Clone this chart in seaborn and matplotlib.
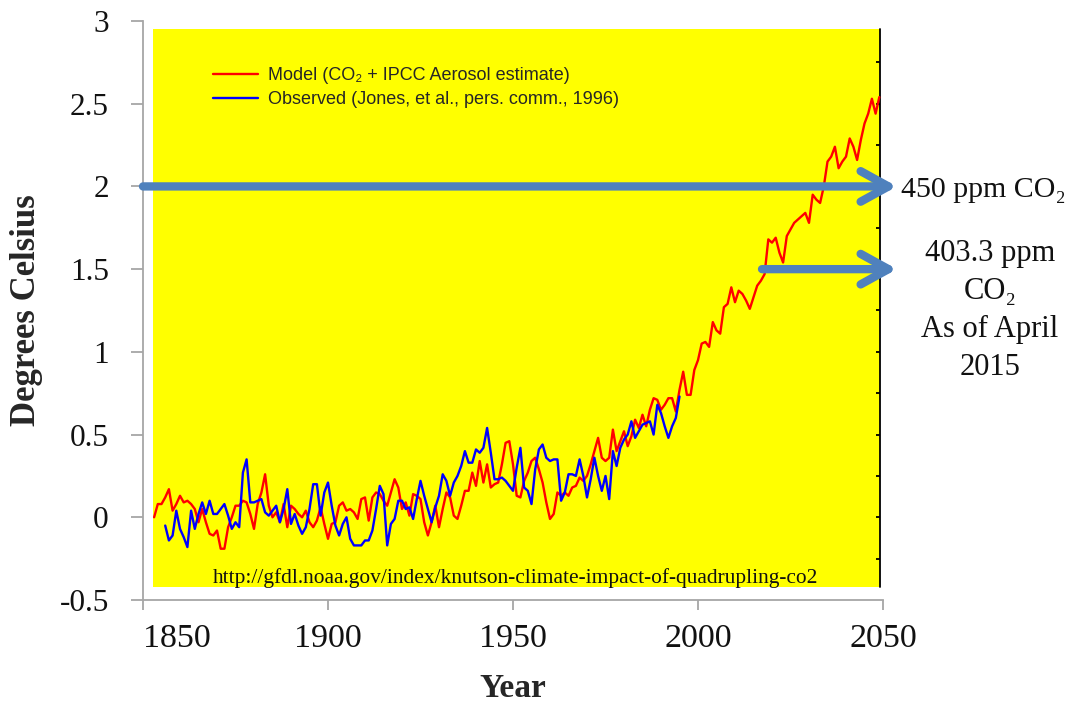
import matplotlib
matplotlib.use("Agg")
import matplotlib.pyplot as plt
import seaborn as sns
import pandas as pd
from matplotlib.patches import Rectangle

# ---- data -------------------------------------------------------------
model_years = list(range(1853, 2050))
model_temps = [
    0.00, 0.08, 0.08, 0.12, 0.17, 0.04, 0.08, 0.13, 0.09, 0.10,   # 1853-1862
    0.08, 0.05, -0.03, 0.05, -0.03, -0.10, -0.11, -0.08, -0.19, -0.19,  # 1863-1872
    -0.06, 0.00, 0.07, 0.07, 0.10, 0.09, 0.02, -0.07, 0.08, 0.15,  # 1873-1882
    0.26, 0.07, 0.00, 0.03, -0.03, 0.08, -0.06, 0.07, 0.05, 0.02,  # 1883-1892
    0.00, 0.04, -0.03, -0.06, -0.02, 0.06, -0.04, -0.13, -0.04, -0.03,  # 1893-1902
    0.07, 0.09, 0.04, 0.05, 0.03, -0.01, 0.11, 0.12, -0.02, 0.12,  # 1903-1912
    0.15, 0.14, 0.10, 0.07, 0.15, 0.23, 0.18, 0.05, 0.09, 0.01,  # 1913-1922
    0.14, 0.13, 0.11, -0.03, -0.11, -0.03, 0.07, -0.06, 0.05, 0.15,  # 1923-1932
    0.12, 0.01, -0.01, 0.07, 0.16, 0.16, 0.27, 0.19, 0.34, 0.21,  # 1933-1942
    0.32, 0.18, 0.20, 0.21, 0.32, 0.45, 0.46, 0.32, 0.13, 0.12,  # 1943-1952
    0.22, 0.27, 0.34, 0.36, 0.29, 0.21, 0.09, -0.01, 0.02, 0.15,  # 1953-1962
    0.13, 0.15, 0.13, 0.18, 0.19, 0.24, 0.22, 0.25, 0.32, 0.40,  # 1963-1972
    0.48, 0.36, 0.34, 0.36, 0.53, 0.40, 0.46, 0.52, 0.43, 0.49,  # 1973-1982
    0.59, 0.54, 0.62, 0.55, 0.65, 0.72, 0.71, 0.65, 0.68, 0.72,  # 1983-1992
    0.72, 0.64, 0.77, 0.88, 0.74, 0.74, 0.89, 0.95, 1.05, 1.06,  # 1993-2002
    1.03, 1.18, 1.13, 1.11, 1.27, 1.29, 1.39, 1.30, 1.37, 1.35,  # 2003-2012
    1.31, 1.26, 1.33, 1.40, 1.43, 1.47, 1.68, 1.66, 1.69, 1.60,  # 2013-2022
    1.54, 1.70, 1.74, 1.78, 1.80, 1.82, 1.84, 1.78, 1.95, 1.92,  # 2023-2032
    1.90, 2.00, 2.15, 2.18, 2.24, 2.11, 2.15, 2.18, 2.29, 2.24,  # 2033-2042
    2.16, 2.28, 2.38, 2.44, 2.53, 2.44, 2.54,                    # 2043-2049
]
model_years = model_years[:len(model_temps)]

obs_years = list(range(1856, 1996))
obs_temps = [
    -0.05, -0.14, -0.11, 0.04, -0.07, -0.12, -0.18, 0.04, -0.07, 0.02,  # 1856-1865
    0.09, 0.02, 0.10, 0.02, 0.02, 0.05, 0.08, 0.01, -0.07, -0.03,      # 1866-1875
    -0.06, 0.27, 0.35, 0.09, 0.09, 0.10, 0.11, 0.03, 0.01, 0.04,       # 1876-1885
    0.07, -0.03, 0.05, 0.17, -0.04, 0.02, -0.05, -0.10, -0.06, 0.05,   # 1886-1895
    0.20, 0.20, 0.01, 0.15, 0.21, 0.07, -0.05, -0.11, -0.04, 0.00,     # 1896-1905
    -0.13, -0.17, -0.17, -0.17, -0.14, -0.14, -0.08, 0.05, 0.19, 0.14, # 1906-1915
    -0.17, -0.04, -0.01, 0.10, 0.10, 0.05, 0.06, -0.01, 0.11, 0.22,    # 1916-1925
    0.13, 0.05, -0.03, 0.06, 0.13, 0.26, 0.22, 0.13, 0.21, 0.25,       # 1926-1935
    0.31, 0.40, 0.33, 0.33, 0.41, 0.39, 0.42, 0.54, 0.39, 0.23,        # 1936-1945
    0.23, 0.24, 0.22, 0.19, 0.16, 0.30, 0.42, 0.18, 0.16, 0.08,        # 1946-1955
    0.29, 0.41, 0.44, 0.36, 0.34, 0.35, 0.35, 0.10, 0.15, 0.26,        # 1956-1965
    0.26, 0.25, 0.35, 0.25, 0.12, 0.23, 0.36, 0.25, 0.16, 0.25,        # 1966-1975
    0.11, 0.40, 0.31, 0.42, 0.47, 0.50, 0.58, 0.48, 0.52, 0.56,        # 1976-1985
    0.57, 0.58, 0.50, 0.68, 0.63, 0.55, 0.48, 0.55, 0.60, 0.73,        # 1986-1995
]

series_labels = ["Model (CO\u2082 + IPCC Aerosol estimate)",
                 "Observed (Jones, et al., pers. comm., 1996)"]
x_ticks = [1850, 1900, 1950, 2000, 2050]
x_tick_labels = ["1850", "1900", "1950", "2000", "2050"]
y_ticks = [-0.5, 0, 0.5, 1, 1.5, 2, 2.5, 3]
y_tick_labels = ["-0.5", "0", "0.5", "1", "1.5", "2", "2.5", "3"]
inner_ticks = [-0.25, 0, 0.25, 0.5, 0.75, 1.0, 1.25, 1.5, 1.75, 2.0, 2.25, 2.5, 2.75]

co2_levels = [2.0, 1.5]
co2_arrow_starts = [1850, 2017.3]
co2_notes = ["450 ppm CO\u2082", "403.3 ppm\nCO\u2082\nAs of April\n2015"]
source_url = "http://gfdl.noaa.gov/index/knutson-climate-impact-of-quadrupling-co2"

# ---- style ------------------------------------------------------------
sns.set_theme(style="white")
plt.rcParams["font.family"] = ["Liberation Serif", "DejaVu Serif"]
SERIF = ["Liberation Serif", "DejaVu Serif"]
SANS = ["Liberation Sans", "DejaVu Sans"]
AXIS_GREY = "#a6a6a6"
ARROW_BLUE = "#4f81bd"

fig = plt.figure(figsize=(10.83, 7.08), dpi=100)
ax = fig.add_axes([143 / 1083, 108 / 708, 740 / 1083, 579 / 708])
ax.set_xlim(1850, 2050)
ax.set_ylim(-0.5, 3)

# yellow panel of the model figure
panel_x0, panel_x1 = 1852.7, 2049.2
panel_y0, panel_y1 = -0.42, 2.95
ax.add_patch(Rectangle((panel_x0, panel_y0), panel_x1 - panel_x0, panel_y1 - panel_y0,
                       facecolor="#ffff00", edgecolor="none", zorder=0))
ax.plot([panel_x1, panel_x1], [panel_y0, panel_y1], color="black", lw=1.3, zorder=1)
ax.hlines(inner_ticks, panel_x1 - 1.1, panel_x1, color="black", lw=1.3, zorder=1)

model_df = pd.DataFrame({"year": model_years, "temp": model_temps})
obs_df = pd.DataFrame({"year": obs_years, "temp": obs_temps})
sns.lineplot(data=model_df, x="year", y="temp", ax=ax, color="#ff0000", lw=1.7,
             label=series_labels[0], zorder=3)
sns.lineplot(data=obs_df, x="year", y="temp", ax=ax, color="#0000ff", lw=1.7,
             label=series_labels[1], zorder=3)

leg = ax.legend(loc="upper left", bbox_to_anchor=(213 / 1083, 1 - 67 / 708),
                bbox_transform=fig.transFigure, frameon=False,
                prop={"family": SANS, "size": 13}, handlelength=2.5,
                handletextpad=0.55, labelspacing=0.4, borderpad=0, borderaxespad=0)
for line in leg.get_lines():
    line.set_linewidth(1.7)

# axes frame
for side in ["top", "right"]:
    ax.spines[side].set_visible(False)
for side in ["left", "bottom"]:
    ax.spines[side].set_color(AXIS_GREY)
    ax.spines[side].set_linewidth(1.3)

ax.set_xticks(x_ticks)
ax.set_xticklabels(x_tick_labels, fontsize=24.5, family=SERIF, color="#111111")
ax.set_yticks(y_ticks)
ax.set_yticklabels(y_tick_labels, fontsize=22.5, family=SERIF, color="#111111")
ax.tick_params(axis="y", direction="out", length=8.6, width=1.3, color=AXIS_GREY, pad=16, left=True)
ax.tick_params(axis="x", direction="out", length=7.2, width=1.3, color=AXIS_GREY, pad=9.5, bottom=True)
ax.get_xticklabels()[0].set_horizontalalignment("left")

ax.set_xlabel("Year", fontsize=24, fontweight="bold", family=SERIF, labelpad=14)
ax.set_ylabel("Degrees Celsius", fontsize=25, fontweight="bold", family=SERIF, labelpad=12)

# source link
ax.text(1950.6, -0.365, source_url, ha="center", va="center", fontsize=15.4, family=SERIF,
        color="#111111", zorder=4)

# CO2 level arrows and notes
for level, start in zip(co2_levels, co2_arrow_starts):
    ax.annotate("", xy=(2053.8, level), xytext=(start, level), annotation_clip=False,
                arrowprops=dict(arrowstyle="->,head_length=1.0,head_width=0.55",
                                mutation_scale=20, lw=6.0, color=ARROW_BLUE,
                                shrinkA=0, shrinkB=0, capstyle="round", joinstyle="round"),
                zorder=5)

ax.text(2054.8, 1.98, co2_notes[0], ha="left", va="center", fontsize=21.5,
        family=SERIF, color="#111111", clip_on=False)
ax.text(2078.9, 1.25, co2_notes[1], ha="center", va="center", fontsize=22,
        family=SERIF, color="#111111", linespacing=1.4, clip_on=False)

fig.savefig("out.png", dpi=100, facecolor="white")
